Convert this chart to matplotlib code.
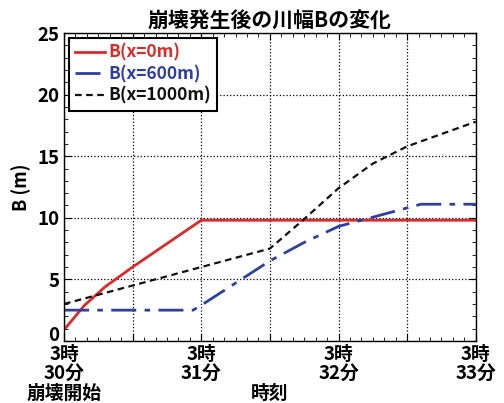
import matplotlib
matplotlib.use("Agg")
import matplotlib.pyplot as plt
from matplotlib.ticker import MultipleLocator

plt.rcParams['font.family'] = ['Noto Sans CJK JP', 'DejaVu Sans']
plt.rcParams['font.weight'] = 'bold'

# time in minutes after 3:30
t_red = [0.0, 0.15, 0.3, 0.5, 0.75, 1.0, 3.0]
b_red = [0.9, 2.9, 4.4, 6.0, 7.9, 9.8, 9.8]

t_blue = [0.0, 0.94, 1.0, 1.5, 1.75, 2.0, 2.3, 2.6, 3.0]
b_blue = [2.5, 2.5, 2.9, 6.5, 8.0, 9.3, 10.2, 11.1, 11.1]

t_black = [0.0, 1.0, 1.5, 1.75, 2.0, 2.25, 2.5, 3.0]
b_black = [3.0, 6.0, 7.5, 9.9, 12.4, 14.4, 15.8, 17.8]

labels = ['B(x=0m)', 'B(x=600m)', 'B(x=1000m)']
colors = ['#d92b2b', '#2e3f9f', '#111111']
tick_labels = ['3時\n30分', '3時\n31分', '3時\n32分', '3時\n33分']
y_ticks = [0, 5, 10, 15, 20, 25]

fig = plt.figure(figsize=(5.04, 4.03), dpi=100)
ax = fig.add_axes([0.127, 0.154, 0.817, 0.764])

ax.plot(t_red, b_red, color=colors[0], lw=2, label=labels[0])
ax.plot(t_blue, b_blue, color=colors[1], lw=2, dashes=(9, 3, 2, 3), label=labels[1])
ax.plot(t_black, b_black, color=colors[2], lw=1.6, dashes=(3, 2), label=labels[2])

ax.set_xlim(0, 3)
ax.set_ylim(0, 25)
ax.set_xticks([0, 0.5, 1, 1.5, 2, 2.5, 3])
ax.set_xticklabels([tick_labels[0], '', tick_labels[1], '', tick_labels[2], '', tick_labels[3]],
                   linespacing=0.95)
ax.xaxis.set_minor_locator(MultipleLocator(1 / 12))
ax.set_yticks(y_ticks)
# the "0" is drawn separately, a bit higher, so it clears the time labels
ax.set_yticklabels([''] + [str(v) for v in y_ticks[1:]])
ax.yaxis.set_minor_locator(MultipleLocator(1))
ax.tick_params(which='both', direction='in', top=True, right=True, labelsize=13.5)
ax.tick_params(which='major', length=5)
ax.tick_params(which='minor', length=3)
ax.tick_params(axis='x', pad=3)
ax.grid(True, which='major', linestyle=':', color='black', lw=0.9)
for s in ax.spines.values():
    s.set_linewidth(1.0)

ax.annotate(str(y_ticks[0]), xy=(0, y_ticks[0]), xycoords=('axes fraction', 'data'),
            xytext=(-3.5, 4), textcoords='offset points', ha='right', va='center',
            fontsize=13.5, fontweight='bold')

ax.set_title('崩壊発生後の川幅Bの変化', fontsize=15, fontweight='bold', pad=4)
ax.set_ylabel('B (m)', fontsize=13, fontweight='bold', labelpad=4)
ax.set_xlabel('時刻', fontsize=13.5, fontweight='bold', labelpad=1.5)
ax.text(0, -0.14, '崩壊開始', transform=ax.get_xaxis_transform(), ha='center', va='top',
        fontsize=13.5, fontweight='bold')

leg = ax.legend(loc='upper left', bbox_to_anchor=(0.012, 0.985), borderaxespad=0,
                fontsize=12.5, fancybox=False, framealpha=1, edgecolor='black',
                handlelength=1.7, handletextpad=0.2, labelspacing=0.2, borderpad=0.35)
leg.get_frame().set_linewidth(1.5)
for txt, c in zip(leg.get_texts(), colors):
    txt.set_color(c)

fig.savefig('out.png', dpi=100)
